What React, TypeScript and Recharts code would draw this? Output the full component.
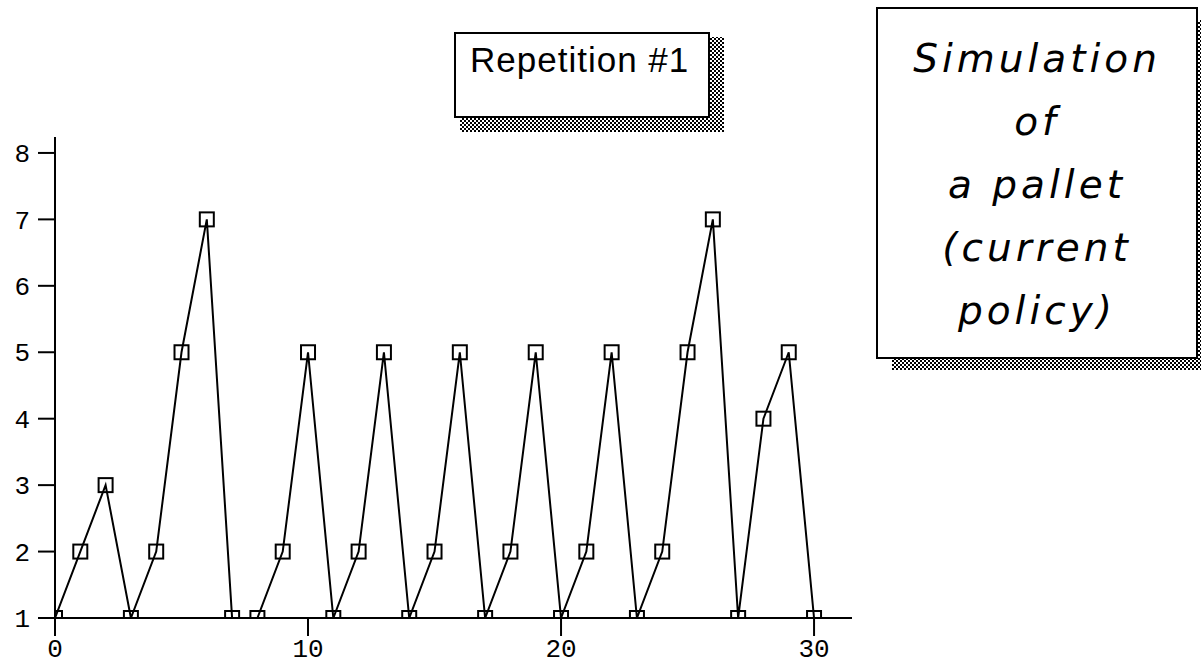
import { LineChart, Line, XAxis, YAxis } from "recharts";

// one pallet, step by step
const steps = Array.from({ length: 31 }, (_, i) => i);
const palletLevel = [
  1, 2, 3, 1, 2, 5, 7, 1, 1, 2, 5, 1, 2, 5, 1, 2, 5, 1, 2, 5, 1, 2, 5, 1, 2, 5,
  7, 1, 4, 5, 1,
];
const xTicks = [0, 10, 20, 30];
const yTicks = [1, 2, 3, 4, 5, 6, 7, 8];
const badgeText = "Repetition #1";
const noteLines = ["Simulation", "of", "a pallet", "(current", "policy)"];

const data = steps.map((step, i) => ({ step, level: palletLevel[i] }));

const tickFont = {
  fill: "#000",
  fontSize: 26,
  fontFamily: "Liberation Mono, monospace",
};

function SquareDot(props: any) {
  const { cx, cy, index } = props;
  if (cx == null || cy == null) return null;
  return (
    <rect
      key={`dot-${index}`}
      x={cx - 7}
      y={cy - 7}
      width={14}
      height={14}
      fill="none"
      stroke="#000"
      strokeWidth={2}
    />
  );
}

function Notes() {
  return (
    <svg
      width={1201}
      height={670}
      style={{ position: "absolute", left: 0, top: 0, pointerEvents: "none" }}
    >
      <defs>
        <pattern id="dither" width="4" height="4" patternUnits="userSpaceOnUse">
          <rect width="4" height="4" fill="#fff" />
          <rect x="0" y="0" width="2" height="2" fill="#000" />
          <rect x="2" y="2" width="2" height="2" fill="#000" />
        </pattern>
      </defs>

      {/* badge */}
      <rect x={460} y={37} width={264} height={95} fill="url(#dither)" />
      <rect x={455} y={33} width={254} height={84} fill="#fff" stroke="#000" strokeWidth={2} />
      <text
        x={470}
        y={72}
        fontFamily="Liberation Sans, Arial, sans-serif"
        fontSize={35}
        letterSpacing={1}
        fill="#000"
      >
        {badgeText}
      </text>

      {/* side note */}
      <rect x={892} y={20} width={320} height={350} fill="url(#dither)" />
      <rect x={877} y={8} width={320} height={350} fill="#fff" stroke="#000" strokeWidth={2} />
      {noteLines.map((line, i) => (
        <text
          key={line}
          x={1037}
          y={72 + i * 63}
          textAnchor="middle"
          fontFamily="DejaVu Sans, sans-serif"
          fontStyle="italic"
          fontWeight={200}
          fontSize={39}
          letterSpacing={4}
          fill="#000"
        >
          {line}
        </text>
      ))}
    </svg>
  );
}

export default function App() {
  return (
    <div
      style={{
        position: "absolute",
        left: 0,
        top: 0,
        width: 1201,
        height: 670,
        background: "#fff",
      }}
    >
      <LineChart
        width={1201}
        height={670}
        data={data}
        margin={{ top: 137, right: 349, bottom: 0, left: 0 }}
      >
        <XAxis
          dataKey="step"
          type="number"
          domain={[0, 31.5]}
          ticks={xTicks}
          allowDataOverflow
          height={52}
          tickSize={18}
          tickMargin={3}
          tick={tickFont}
          axisLine={{ stroke: "#000", strokeWidth: 2 }}
          tickLine={{ stroke: "#000", strokeWidth: 2 }}
        />
        <YAxis
          type="number"
          domain={[1, 8.24]}
          ticks={yTicks}
          allowDataOverflow
          width={55}
          tickSize={17}
          tickMargin={8}
          tick={tickFont}
          axisLine={{ stroke: "#000", strokeWidth: 2 }}
          tickLine={{ stroke: "#000", strokeWidth: 2 }}
        />
        <Line
          type="linear"
          dataKey="level"
          stroke="#000"
          strokeWidth={2}
          dot={SquareDot}
          activeDot={false}
          isAnimationActive={false}
        />
      </LineChart>
      <Notes />
    </div>
  );
}
